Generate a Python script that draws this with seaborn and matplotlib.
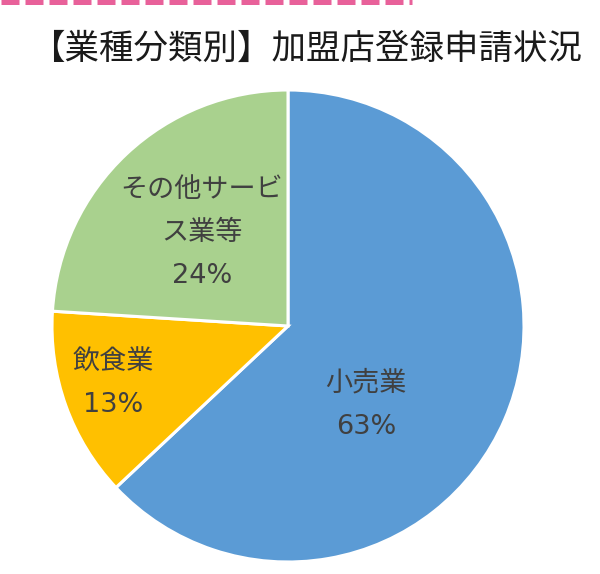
import matplotlib
matplotlib.use("Agg")
import matplotlib.pyplot as plt
import seaborn as sns

sns.set_theme(style="white")
plt.rcParams["font.family"] = ["Noto Sans CJK JP", "DejaVu Sans"]

# data
categories = ["小売業", "飲食業", "その他サービ\nス業等"]
shares = [63, 13, 24]
colors = ["#5B9BD5", "#FFC000", "#A9D18E"]
title = "【業種分類別】加盟店登録申請状況"

fig = plt.figure(figsize=(6.0, 5.74), dpi=100)

# pink dashed rule at the very top
line_ax = fig.add_axes([0, 0.98, 1, 0.02])
line_ax.axis("off")
line_ax.set_xlim(0, 600)
line_ax.set_ylim(0, 11.48)
line_ax.plot([1, 412], [9.0, 9.0], color="#E8619A", lw=3.6,
             linestyle=(0, (3.6, 1.2)), solid_capstyle="butt")

fig.text(0.51, 0.914, title, ha="center", va="center", fontsize=24.8,
         color="#1a1a1a")

# pie axes: centre (288, 326) px, radius 236 px
ax = fig.add_axes([52 / 600, 12 / 574, 472 / 600, 472 / 574])
wedges, _ = ax.pie(shares, colors=colors, startangle=90, counterclock=False,
                   radius=1.0,
                   wedgeprops=dict(edgecolor="white", linewidth=2.2))
ax.set_xlim(-1, 1)
ax.set_ylim(-1, 1)
ax.set_aspect("equal")
ax.axis("off")

label_pos = [(0.33, -0.335), (-0.74, -0.245), (-0.365, 0.395)]
for name, val, (x, y) in zip(categories, shares, label_pos):
    ax.text(x, y, f"{name}\n{val}%", ha="center", va="center",
            fontsize=19.5, color="#404040", linespacing=1.85,
            family=["DejaVu Sans", "Noto Sans CJK JP"])

plt.savefig("out.png", dpi=100)
